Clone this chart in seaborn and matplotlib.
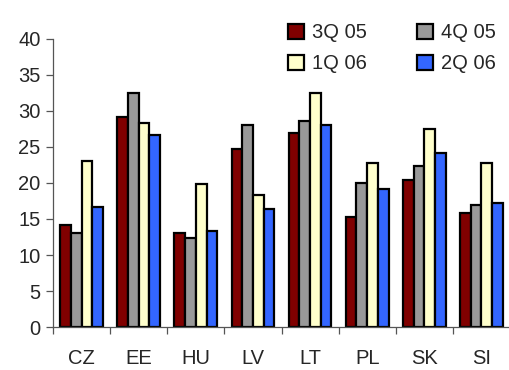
import matplotlib
matplotlib.use("Agg")
import matplotlib.pyplot as plt
import seaborn as sns
import pandas as pd
from matplotlib.ticker import FixedLocator

countries = ["CZ", "EE", "HU", "LV", "LT", "PL", "SK", "SI"]
series = ["3Q 05", "4Q 05", "1Q 06", "2Q 06"]
q3_05 = [14.2, 29.2, 13.1, 24.7, 26.9, 15.3, 20.4, 15.9]
q4_05 = [13.1, 32.5, 12.3, 28.0, 28.6, 20.0, 22.3, 17.0]
q1_06 = [23.0, 28.3, 19.8, 18.3, 32.5, 22.8, 27.5, 22.8]
q2_06 = [16.7, 26.7, 13.4, 16.4, 28.0, 19.2, 24.2, 17.2]
colors = ["#800000", "#999999", "#FFFFCC", "#3366FF"]

rows = []
for name, vals in zip(series, [q3_05, q4_05, q1_06, q2_06]):
    for c, v in zip(countries, vals):
        rows.append({"country": c, "series": name, "value": v})
df = pd.DataFrame(rows)

sns.set_style("white")
plt.rcParams["font.family"] = ["Liberation Sans", "DejaVu Sans"]

fig = plt.figure(figsize=(5.1, 3.7), dpi=100)
ax = fig.add_axes([0.104, 0.116, 0.896, 0.779])
sns.barplot(data=df, x="country", y="value", hue="series", palette=colors,
            order=countries, hue_order=series, width=0.75,
            edgecolor="black", linewidth=1.6, saturation=1, ax=ax, legend=True)

ax.set_ylim(0, 40)
ax.set_xlim(-0.5, 7.5)
ax.set_yticks(range(0, 41, 5))
ax.set_xlabel("")
ax.set_ylabel("")
for s in ["top", "right"]:
    ax.spines[s].set_visible(False)
for s in ["left", "bottom"]:
    ax.spines[s].set_color("#555555")
    ax.spines[s].set_linewidth(0.9)
ax.tick_params(axis="y", which="major", length=5, width=0.9, color="#555555",
               labelsize=14.5, pad=4, left=True, direction="out")
ax.tick_params(axis="x", which="major", length=0, labelsize=14.5, pad=16)
ax.xaxis.set_minor_locator(FixedLocator([i - 0.5 for i in range(9)]))
ax.tick_params(axis="x", which="minor", length=5, width=0.9, color="#555555",
               bottom=True, direction="out")

handles, labels = ax.get_legend_handles_labels()
order = [0, 2, 1, 3]
ax.legend([handles[i] for i in order], [labels[i] for i in order], ncol=2,
          loc="upper left",
          bbox_to_anchor=(0.565, 0.937), bbox_transform=fig.transFigure,
          frameon=False, fontsize=14.5, handlelength=0.8, handleheight=0.8,
          handletextpad=0.4, columnspacing=2.45, labelspacing=0.6,
          borderaxespad=0, borderpad=0)

fig.savefig("out.png", dpi=100)
